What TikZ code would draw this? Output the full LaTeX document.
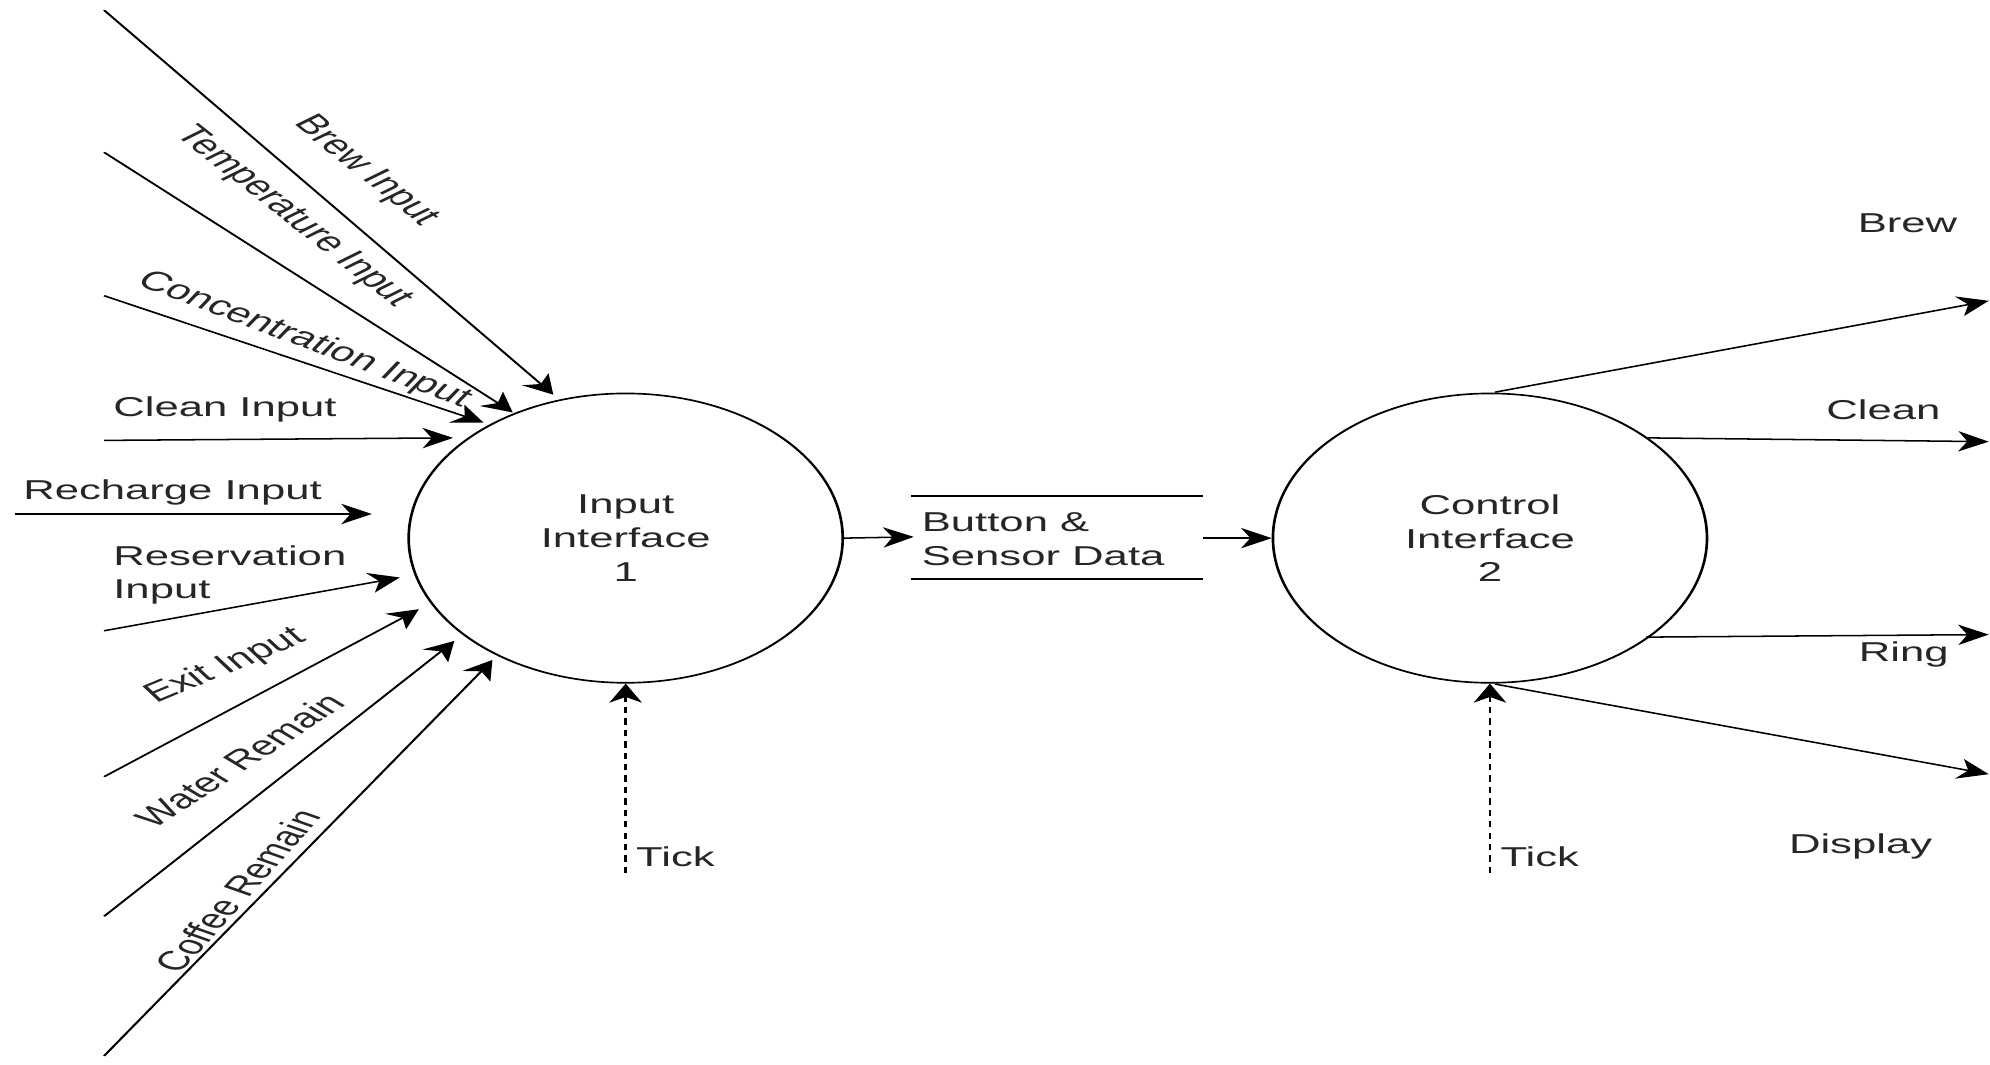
\documentclass[tikz,border=0pt]{standalone}
\usepackage{fontspec}
\setmainfont{Liberation Sans}
\usetikzlibrary{arrows.meta,shapes.geometric}
\begin{document}
\begin{tikzpicture}[x=1pt,y=-1pt]
\useasboundingbox (0,0) rectangle (1568,839);
\begin{scope}[transform canvas={xscale=1.6}, x=0.625pt, y=-1pt,
  txt/.style={font=\fontsize{21.5}{26.5}\selectfont, text=black!85, inner sep=0pt},
  proc/.style={draw, ellipse, line width=1.3pt, inner sep=0pt,
    minimum width=213.75pt, minimum height=228pt, align=center,
    font=\fontsize{21.5}{26.5}\selectfont, text=black!85},
  flow/.style={line width=1.2pt, -{Stealth[length=15pt,width=16pt,inset=4.5pt]}},
  tickflow/.style={flow, dash pattern=on 5pt off 4pt},
  store/.style={line width=1.8pt}]

% processes
\node[proc] (c1) at (493,424) {Input\\Interface\\1};
\node[proc] (c2) at (1174,424) {Control\\Interface\\2};

% input flows
\coordinate (s1) at (82,8);    \coordinate (e1) at (436,311);
\coordinate (s2) at (82,120);  \coordinate (e2) at (404,325);
\coordinate (s3) at (82,233);  \coordinate (e3) at (381,333);
\coordinate (s4) at (82,347);  \coordinate (e4) at (357,345);
\coordinate (s5) at (12,405);  \coordinate (e5) at (293,405);
\coordinate (s6) at (82,497);  \coordinate (e6) at (315,455);
\coordinate (s7) at (82,612);  \coordinate (e7) at (330,480);
\coordinate (s8) at (82,722);  \coordinate (e8) at (358,505);
\coordinate (s9) at (82,832);  \coordinate (e9) at (388,520);
\foreach \i in {1,...,9} {\draw[flow] (s\i) -- (e\i);}

\node[txt, rotate=-52] (l1) at (288,135) {Brew Input};
\node[txt, rotate=-51.5] (l2) at (231,171) {Temperature Input};
\node[txt, rotate=-31] (l3) at (240,268) {Concentration Input};
\node[txt, anchor=west] (l4) at (89,323) {Clean Input};
\node[txt, anchor=west] (l5) at (18,388) {Recharge Input};
\node[txt, anchor=west, align=left] (l6) at (89,453) {Reservation\\Input};
\node[txt, rotate=33.7] (l7) at (178,525) {Exit Input};
\node[txt, rotate=46] (l8) at (189,599) {Water Remain};
\node[txt, rotate=60.6] (l9) at (187,702) {Coffee Remain};

% ticks
\coordinate (t1) at (493,688);
\coordinate (t2) at (1174,688);
\draw[tickflow] (t1) -- (c1.south);
\draw[tickflow] (t2) -- (c2.south);
\node[txt, anchor=west] (tk1) at (501,675) {Tick};
\node[txt, anchor=west] (tk2) at (1182,675) {Tick};

% data store
\coordinate (dsin) at (720,423);
\coordinate (dsout) at (948,424);
\draw[store] (718,391) coordinate (dstl) -- (948,391) coordinate (dstr);
\draw[store] (718,456) coordinate (dsbl) -- (948,456) coordinate (dsbr);
\node[txt, anchor=west, align=left] (ds) at (726,425) {Button \&\\Sensor Data};
\draw[flow] (c1.east) -- (dsin);
\draw[flow] (dsout) -- (c2.west);

% outputs
\coordinate (o1s) at (1178,309);  \coordinate (o1) at (1567,237);
\coordinate (o2s) at (1297,345);  \coordinate (o2) at (1567,348);
\coordinate (o3s) at (1297,502);  \coordinate (o3) at (1567,500);
\coordinate (o4s) at (1178,539);  \coordinate (o4) at (1567,610);
\draw[flow] (o1s) -- (o1);
\draw[flow] (o2s) -- (o2);
\draw[flow] (o3s) -- (o3);
\draw[flow] (o4s) -- (o4);
\node[txt] (lo1) at (1503,176) {Brew};
\node[txt] (lo2) at (1484,323) {Clean};
\node[txt] (lo3) at (1500,516) {Ring};
\node[txt] (lo4) at (1466,667) {Display};
\end{scope}
\end{tikzpicture}
\end{document}
